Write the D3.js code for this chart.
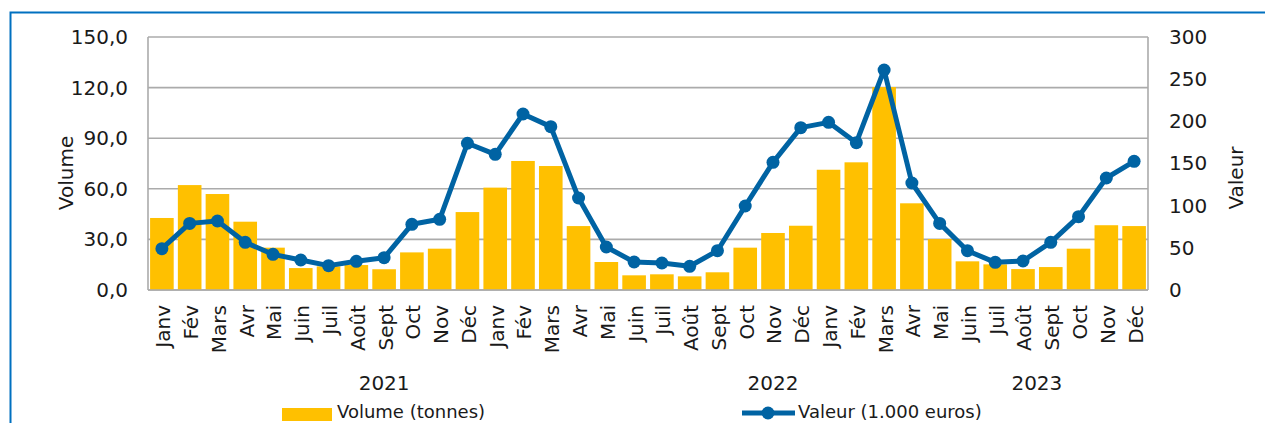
<!DOCTYPE html>
<html>
<head>
<meta charset="utf-8">
<script src="https://cdn.jsdelivr.net/npm/d3@7"></script>
<style>
  body { margin: 0; background: #fff; }
  text { font-family: "DejaVu Sans", sans-serif; fill: #1a1a1a; }
</style>
</head>
<body>
<div id="chart"></div>
<script>
// categories
var months = ['Janv','Fév','Mars','Avr','Mai','Juin','Juil','Août','Sept','Oct','Nov','Déc',
              'Janv','Fév','Mars','Avr','Mai','Juin','Juil','Août','Sept','Oct','Nov','Déc',
              'Janv','Fév','Mars','Avr','Mai','Juin','Juil','Août','Sept','Oct','Nov','Déc'];
// year labels, placed at the month index where the picture shows them
var years = [{ label: '2021', at: 8 }, { label: '2022', at: 22 }, { label: '2023', at: 31.5 }];

// Volume (tonnes), left axis
var volume = [42.7, 62.2, 56.9, 40.5, 25.1, 13.0, 14.0, 14.8, 12.3, 22.3, 24.5, 46.2,
              60.7, 76.5, 73.5, 37.9, 16.6, 8.7, 9.3, 8.1, 10.5, 25.1, 33.8, 38.1,
              71.3, 75.7, 120.3, 51.4, 30.2, 17.0, 15.2, 12.4, 13.6, 24.5, 38.4, 37.9];
// Valeur (1.000 euros), right axis
var valeur = [49, 79, 81.8, 56.5, 42.3, 35.6, 28.9, 34, 38.3, 77.9, 83.8, 174,
              160.9, 208.7, 193.7, 109.1, 51, 33.2, 32, 28.1, 46.6, 99.6, 151.4, 192.5,
              198.8, 174.7, 260.9, 126.9, 79, 46.6, 32.8, 34.4, 56.5, 87, 132.8, 152.6];

var leftTicks = [0, 30, 60, 90, 120, 150];
var rightTicks = [0, 50, 100, 150, 200, 250, 300];

var W = 1265, H = 423;
var m = { top: 37, right: 117, bottom: 133, left: 148 };
var barColor = '#FFC000', lineColor = '#0063A3', gridColor = '#ABABAB';

var svg = d3.select('#chart').append('svg').attr('width', W).attr('height', H);

// outer blue frame (only top and left visible)
svg.append('rect')
  .attr('x', 10.5).attr('y', 12.5).attr('width', W + 20).attr('height', H + 20)
  .attr('fill', 'none').attr('stroke', '#0070C0').attr('stroke-width', 2);

var x = d3.scaleBand().domain(d3.range(months.length))
  .range([m.left, W - m.right]).paddingInner(0.15).paddingOuter(0.075);
var yL = d3.scaleLinear().domain([0, 150]).range([H - m.bottom, m.top]);
var yR = d3.scaleLinear().domain([0, 300]).range([H - m.bottom, m.top]);
var step = x.step();

// grid lines
svg.append('g').selectAll('line').data(leftTicks).enter().append('line')
  .attr('x1', m.left).attr('x2', W - m.right)
  .attr('y1', d => yL(d)).attr('y2', d => yL(d))
  .attr('stroke', gridColor).attr('stroke-width', 1.6);

// plot side borders
[m.left, W - m.right].forEach(function (px) {
  svg.append('line').attr('x1', px).attr('x2', px)
    .attr('y1', yL(150)).attr('y2', yL(0))
    .attr('stroke', gridColor).attr('stroke-width', 1.6);
});

// bars
svg.append('g').selectAll('rect').data(volume).enter().append('rect')
  .attr('x', (d, i) => x(i))
  .attr('width', x.bandwidth())
  .attr('y', d => yL(d))
  .attr('height', d => yL(0) - yL(d))
  .attr('fill', barColor);

// left axis
var axL = svg.append('g').attr('transform', 'translate(' + m.left + ',0)')
  .call(d3.axisLeft(yL).tickValues(leftTicks).tickSize(0).tickPadding(20)
    .tickFormat(d => d3.format('.1f')(d).replace('.', ',')));
axL.select('.domain').remove();
axL.selectAll('text').style('font-size', '20px').style('font-family', '"DejaVu Sans", sans-serif').attr('fill', '#1a1a1a');

// right axis
var axR = svg.append('g').attr('transform', 'translate(' + (W - m.right) + ',0)')
  .call(d3.axisRight(yR).tickValues(rightTicks).tickSize(0).tickPadding(21));
axR.select('.domain').remove();
axR.selectAll('text').style('font-size', '20px').style('font-family', '"DejaVu Sans", sans-serif').attr('fill', '#1a1a1a');

// bottom axis line
svg.append('line').attr('x1', m.left).attr('x2', W - m.right)
  .attr('y1', yL(0)).attr('y2', yL(0)).attr('stroke', gridColor).attr('stroke-width', 1.6);

// month labels
svg.append('g').selectAll('text').data(months).enter().append('text')
  .attr('transform', (d, i) => 'translate(' + (x(i) + x.bandwidth() / 2) + ',' + (yL(0) + 15) + ') rotate(-90)')
  .attr('text-anchor', 'end')
  .attr('dy', '0.42em')
  .style('font-size', '20px')
  .text(d => d);

// year labels
svg.append('g').selectAll('text').data(years).enter().append('text')
  .attr('x', d => m.left + step * (d.at + 0.5))
  .attr('y', 390)
  .attr('text-anchor', 'middle')
  .style('font-size', '20px')
  .text(d => d.label);

// line
var line = d3.line().x((d, i) => x(i) + x.bandwidth() / 2).y(d => yR(d));
svg.append('path').datum(valeur)
  .attr('d', line).attr('fill', 'none')
  .attr('stroke', lineColor).attr('stroke-width', 5).attr('stroke-linejoin', 'round');
svg.append('g').selectAll('circle').data(valeur).enter().append('circle')
  .attr('cx', (d, i) => x(i) + x.bandwidth() / 2)
  .attr('cy', d => yR(d))
  .attr('r', 6.5)
  .attr('fill', lineColor);

// axis titles
svg.append('text')
  .attr('transform', 'translate(73,' + 173 + ') rotate(-90)')
  .attr('text-anchor', 'middle')
  .style('font-size', '20px')
  .text('Volume');
svg.append('text')
  .attr('transform', 'translate(1243,' + 178 + ') rotate(-90)')
  .attr('text-anchor', 'middle')
  .style('font-size', '20px')
  .text('Valeur');

// legend
var lg = svg.append('g');
lg.append('rect').attr('x', 282).attr('y', 408).attr('width', 50).attr('height', 13).attr('fill', barColor);
lg.append('text').attr('x', 337).attr('y', 418).style('font-size', '18px').text('Volume (tonnes)');
lg.append('line').attr('x1', 742).attr('x2', 795).attr('y1', 413).attr('y2', 413)
  .attr('stroke', lineColor).attr('stroke-width', 5);
lg.append('circle').attr('cx', 768).attr('cy', 413).attr('r', 6.5).attr('fill', lineColor);
lg.append('text').attr('x', 798).attr('y', 418).style('font-size', '18px').text('Valeur (1.000 euros)');
</script>
</body>
</html>
